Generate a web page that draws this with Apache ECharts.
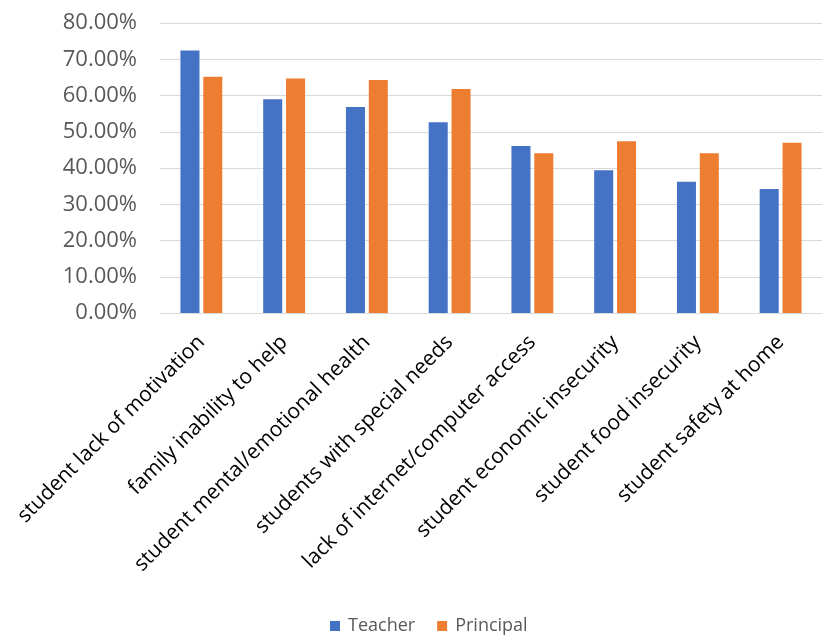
<!DOCTYPE html>
<html lang="en">
<head>
    <meta charset="UTF-8">
    <title>Teacher vs Principal concerns</title>
    <script src="https://cdn.jsdelivr.net/npm/echarts@6/dist/echarts.min.js"></script>
    <style>
        * { margin: 0; padding: 0; }
        body { background: #fff; }
        #main { width: 825px; height: 635px; }
    </style>
</head>
<body>
    <div id="main"></div>
    <script>
        // categories along the x axis
        const categories = [
            'student lack of motivation',
            'family inability to help',
            'student mental/emotional health',
            'students with special needs',
            'lack of internet/computer access',
            'student economic insecurity',
            'student food insecurity',
            'student safety at home'
        ];

        // values in percent
        const teacher = [72.4, 59.0, 56.8, 52.6, 46.1, 39.4, 36.2, 34.2];
        const principal = [65.2, 64.7, 64.3, 61.8, 44.1, 47.4, 44.1, 47.0];

        const chart = echarts.init(document.getElementById('main'));

        const font = '"Open Sans", sans-serif';

        chart.setOption({
            backgroundColor: '#fff',
            animation: false,
            legend: {
                top: 612,
                left: 325,
                itemWidth: 10,
                itemHeight: 10,
                itemGap: 22,
                icon: 'rect',
                textStyle: { fontFamily: font, fontSize: 18, color: '#595959', padding: [0, 0, 0, 3] },
                data: ['Teacher', 'Principal']
            },
            grid: {
                left: 160,
                right: 3,
                top: 23,
                bottom: 322
            },
            xAxis: {
                type: 'category',
                data: categories,
                axisTick: { show: false },
                axisLine: { lineStyle: { color: '#d9d9d9', width: 1 } },
                axisLabel: {
                    rotate: 45,
                    interval: 0,
                    margin: 26,
                    fontFamily: font,
                    fontSize: 21,
                    color: '#000'
                }
            },
            yAxis: {
                type: 'value',
                min: 0,
                max: 80,
                interval: 10,
                axisLine: { show: false },
                axisTick: { show: false },
                splitLine: { lineStyle: { color: '#d9d9d9', width: 1 } },
                axisLabel: {
                    margin: 23,
                    fontFamily: font,
                    fontSize: 22,
                    color: '#595959',
                    formatter: function (v) { return v.toFixed(2) + '%'; }
                }
            },
            series: [
                {
                    name: 'Teacher',
                    type: 'bar',
                    data: teacher,
                    barWidth: '23%',
                    barGap: '20%',
                    itemStyle: { color: '#4472C4' }
                },
                {
                    name: 'Principal',
                    type: 'bar',
                    data: principal,
                    barWidth: '23%',
                    itemStyle: { color: '#ED7D31' }
                }
            ]
        });
    </script>
</body>
</html>
